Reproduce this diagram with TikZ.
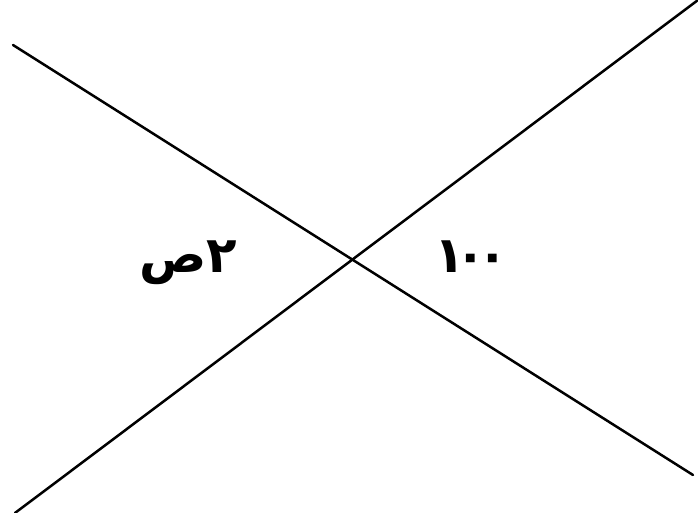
\documentclass[tikz,border=0pt]{standalone}
\usepackage{fontspec}
\newfontfamily\arabicfont[Script=Arabic]{DejaVu Sans}
\TeXXeTstate=1
\begin{document}
\begin{tikzpicture}[x=1pt,y=1pt,
  ln/.style={line width=2.5pt,line cap=round,black},
  lab/.style={font=\arabicfont\bfseries\fontsize{50}{56}\selectfont,inner sep=0pt}]
\useasboundingbox (0,0) rectangle (698,513);
\clip (0,0) rectangle (698,513);
\coordinate (a1) at (13,468);
\coordinate (a2) at (693,38);
\coordinate (b1) at (15,0);
\coordinate (b2) at (698,513);
\draw[ln] (a1) -- (a2);
\draw[ln] (b1) -- (b2);
\node[lab] (left) at (188,250) {\beginR ٢ص\endR};
\node[lab] (right) at (471,256) {١\kern-9pt٠\kern-9pt٠};
\end{tikzpicture}
\end{document}
